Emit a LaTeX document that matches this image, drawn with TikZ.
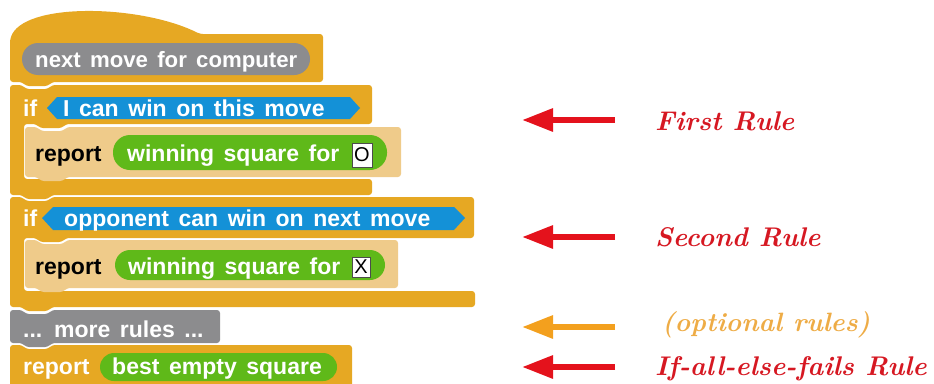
\documentclass[tikz,border=0pt]{standalone}
\usepackage{fontspec}
\newfontfamily\blockfont[WordSpace=1.5]{Liberation Sans}
\usetikzlibrary{arrows.meta}

\definecolor{ctrl}{RGB}{230,168,35}
\definecolor{ctrlzebra}{RGB}{239,203,138}
\definecolor{sensing}{RGB}{20,145,215}
\definecolor{operators}{RGB}{95,185,25}
\definecolor{other}{RGB}{140,140,142}
\definecolor{rulered}{RGB}{228,18,28}
\definecolor{labelred}{RGB}{214,24,34}
\definecolor{ruleorange}{RGB}{243,160,30}
\definecolor{labelorange}{RGB}{238,172,70}

\tikzset{
  blockshape/.style={rounded corners=3pt},
  btext/.style={font=\blockfont\bfseries\fontsize{23}{26}\selectfont,
    text=white, inner sep=0pt, anchor=base west},
  slottext/.style={font=\blockfont\fontsize{20}{22}\selectfont,
    text=black, inner sep=0pt},
  slotbox/.style={fill=white, draw=black!70, line width=0.6pt},
  rulearrow/.style={line width=6pt, -{Triangle[length=31pt,width=22pt]}},
  rulelabel/.style={font=\fontsize{27}{30}\selectfont\bfseries\itshape,
    inner sep=0pt, anchor=base west},
}

% command block with a notch on top and a tab below
\newcommand\cmdblock[5]{%
  \fill[blockshape,#1] (#2,#3) -- ({#2+12},#3) -- ({#2+16},{#3+4})
    -- ({#2+38},{#3+4}) -- ({#2+42},#3) -- (#4,#3) -- (#4,#5)
    -- ({#2+42},#5) -- ({#2+38},{#5+4}) -- ({#2+16},{#5+4})
    -- ({#2+12},#5) -- (#2,#5) -- cycle;}

\begin{document}
\begin{tikzpicture}[x=1pt,y=-1pt]
\useasboundingbox (0,0) rectangle (934,383);

\begin{scope}
\clip (0,0) rectangle (934,383);

% hat block
\fill[blockshape,ctrl] (10,82) -- (10,40) .. controls (22,2) and (140,4) .. (200,34)
  -- (323,34) -- (323,82) -- (52,82) -- (48,86) -- (26,86) -- (22,82) -- cycle;
\fill[other] (22,43) [rounded corners=16pt] rectangle (310,75);
\node[btext,font=\blockfont\bfseries\fontsize{22.2}{26}\selectfont]
  (hattext) at (35,67) {next move for computer};

% first if block
\fill[blockshape,ctrl] (10,85) -- (22,85) -- (26,89) -- (48,89) -- (52,85)
  -- (372,85) -- (372,124) -- (66,124) -- (62,128) -- (40,128) -- (36,124)
  -- (24,124) -- (24,179) -- (372,179) -- (372,195) -- (52,195) -- (48,199)
  -- (26,199) -- (22,195) -- (10,195) -- cycle;
\node[btext] (if1) at (23,116) {if};
\fill[sensing] (47,108) -- (57,97) -- (350,97) -- (360,108) -- (350,119) -- (57,119) -- cycle;
\node[btext] (cond1) at (63,116) {I can win on this move};

\cmdblock{ctrlzebra}{25}{127}{401}{177}
\node[btext,text=black] (rep1) at (35,161) {report};
\fill[operators] (113,135) [rounded corners=17pt] rectangle (387,170);
\node[btext] (win1) at (127,161) {winning square for};
\draw[slotbox] (352,143) rectangle (372,167);
\node[slottext] (slotO) at (362,155) {O};

% second if block
\fill[blockshape,ctrl] (10,197) -- (22,197) -- (26,201) -- (48,201) -- (52,197)
  -- (474,197) -- (474,238) -- (66,238) -- (62,242) -- (40,242) -- (36,238)
  -- (24,238) -- (24,291) -- (475,291) -- (475,307) -- (52,307) -- (48,311)
  -- (26,311) -- (22,307) -- (10,307) -- cycle;
\node[btext] (if2) at (23,226) {if};
\fill[sensing] (42,218) -- (53,207) -- (454,207) -- (465,218) -- (454,230) -- (53,230) -- cycle;
\node[btext] (cond2) at (64,226) {opponent can win on next move};

\cmdblock{ctrlzebra}{25}{240}{398}{288}
\node[btext,text=black] (rep2) at (35,274) {report};
\fill[operators] (115,250) [rounded corners=15pt] rectangle (385,280);
\node[btext] (win2) at (128,274) {winning square for};
\draw[slotbox] (352,257) rectangle (370,277);
\node[slottext] (slotX) at (361,267) {X};

% placeholder block
\cmdblock{other}{10}{310}{220}{343}
\node[btext] (more) at (23,337) {... more rules ...};

% fallback report
\cmdblock{ctrl}{10}{345}{352}{400}
\node[btext] (rep3) at (23,374) {report};
\fill[operators] (100,353) [rounded corners=14pt] rectangle (337,381);
\node[btext] (best) at (112,374) {best empty square};
\end{scope}

% rule labels and arrows
\node[rulelabel,text=labelred] (r1) at (655,130) {First Rule};
\node[rulelabel,text=labelred] (r2) at (655,246) {Second Rule};
\node[rulelabel,text=labelorange,font=\fontsize{26.5}{30}\selectfont\bfseries\itshape] (r3) at (662,331) {(optional rules)};
\node[rulelabel,text=labelred] (r4) at (655,375) {If-all-else-fails Rule};

\coordinate (a1s) at (615,120); \coordinate (a1e) at (522,120);
\coordinate (a2s) at (615,237); \coordinate (a2e) at (522,237);
\coordinate (a3s) at (615,327); \coordinate (a3e) at (522,327);
\coordinate (a4s) at (615,367); \coordinate (a4e) at (522,367);
\draw[rulearrow,rulered] (a1s) -- (a1e);
\draw[rulearrow,rulered] (a2s) -- (a2e);
\draw[rulearrow,ruleorange] (a3s) -- (a3e);
\draw[rulearrow,rulered] (a4s) -- (a4e);
\end{tikzpicture}
\end{document}
